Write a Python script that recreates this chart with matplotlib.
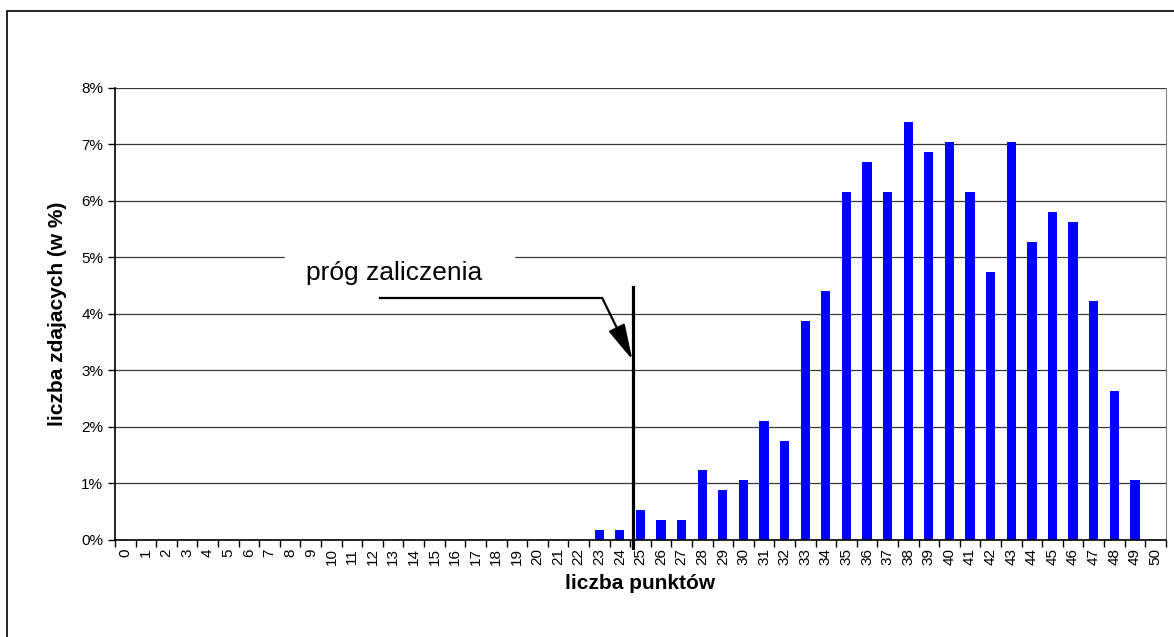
import matplotlib.pyplot as plt
import matplotlib.patches as patches

plt.rcParams['font.family'] = ['Liberation Sans', 'DejaVu Sans']

punkty = list(range(51))
procent = [0]*23 + [0.18, 0.18, 0.53, 0.35, 0.35, 1.23, 0.88, 1.06, 2.11, 1.76,
                    3.87, 4.40, 6.16, 6.69, 6.16, 7.39, 6.87, 7.04, 6.16, 4.75,
                    7.04, 5.28, 5.81, 5.63, 4.23, 2.64, 1.06, 0]
prog = 24.63  # polozenie linii progu

fig = plt.figure(figsize=(11.74, 6.37), dpi=100)
ax = fig.add_axes([0.098, 0.1523, 0.895, 0.7096])

ax.bar(punkty, procent, width=0.45, color='#0000ff', zorder=2)

ax.set_xlim(-0.5, 50.5)
ax.set_ylim(0, 8)
ax.set_yticks(range(9))
ax.set_yticklabels([str(i) + '%' for i in range(9)], fontsize=11)
ax.set_xticks(punkty)
ax.set_xticklabels([str(i) for i in punkty], rotation=90, fontsize=11)
ax.set_xticks([i - 0.5 for i in range(52)], minor=True)
ax.tick_params(axis='x', which='major', length=0, pad=6)
ax.tick_params(axis='x', which='minor', length=5, width=1)
ax.tick_params(axis='y', length=5, width=1)

ax.yaxis.grid(True, color='#383838', lw=0.9, zorder=0)
ax.set_axisbelow(True)
for s in ['top', 'right']:
    ax.spines[s].set_color('#808080')
ax.spines['top'].set_visible(False)
ax.spines['left'].set_linewidth(1.2)
ax.spines['bottom'].set_linewidth(1.2)

ax.set_xlabel('liczba punktów', fontsize=15, fontweight='bold', labelpad=6)
ax.set_ylabel('liczba zdajacych (w %)', fontsize=15, fontweight='bold', labelpad=10)

# prog zaliczenia
ax.plot([prog, prog], [4.48, -0.14], color='black', lw=2.3, clip_on=False, zorder=4)
ax.add_patch(patches.Rectangle((7.76, 4.55), 11.12, 0.55, color='white', zorder=1))
ax.text(13.05, 4.73, 'próg zaliczenia', fontsize=19, ha='center', va='center', zorder=3)
ax.plot([12.37, 23.15], [4.28, 4.28], color='black', lw=1.6, zorder=4)
ax.annotate('', xy=(24.61, 3.19), xytext=(23.15, 4.28),
            arrowprops=dict(arrowstyle='-|>,head_length=2.2,head_width=0.55',
                            color='black', lw=1.6, shrinkA=0, shrinkB=0), zorder=4)

fig.patches.append(patches.Rectangle((7/1174, -0.1), 2, 1.1 - 11/637, fill=False,
                                     edgecolor='black', lw=1.2, transform=fig.transFigure))

fig.savefig('out.png', dpi=100)
